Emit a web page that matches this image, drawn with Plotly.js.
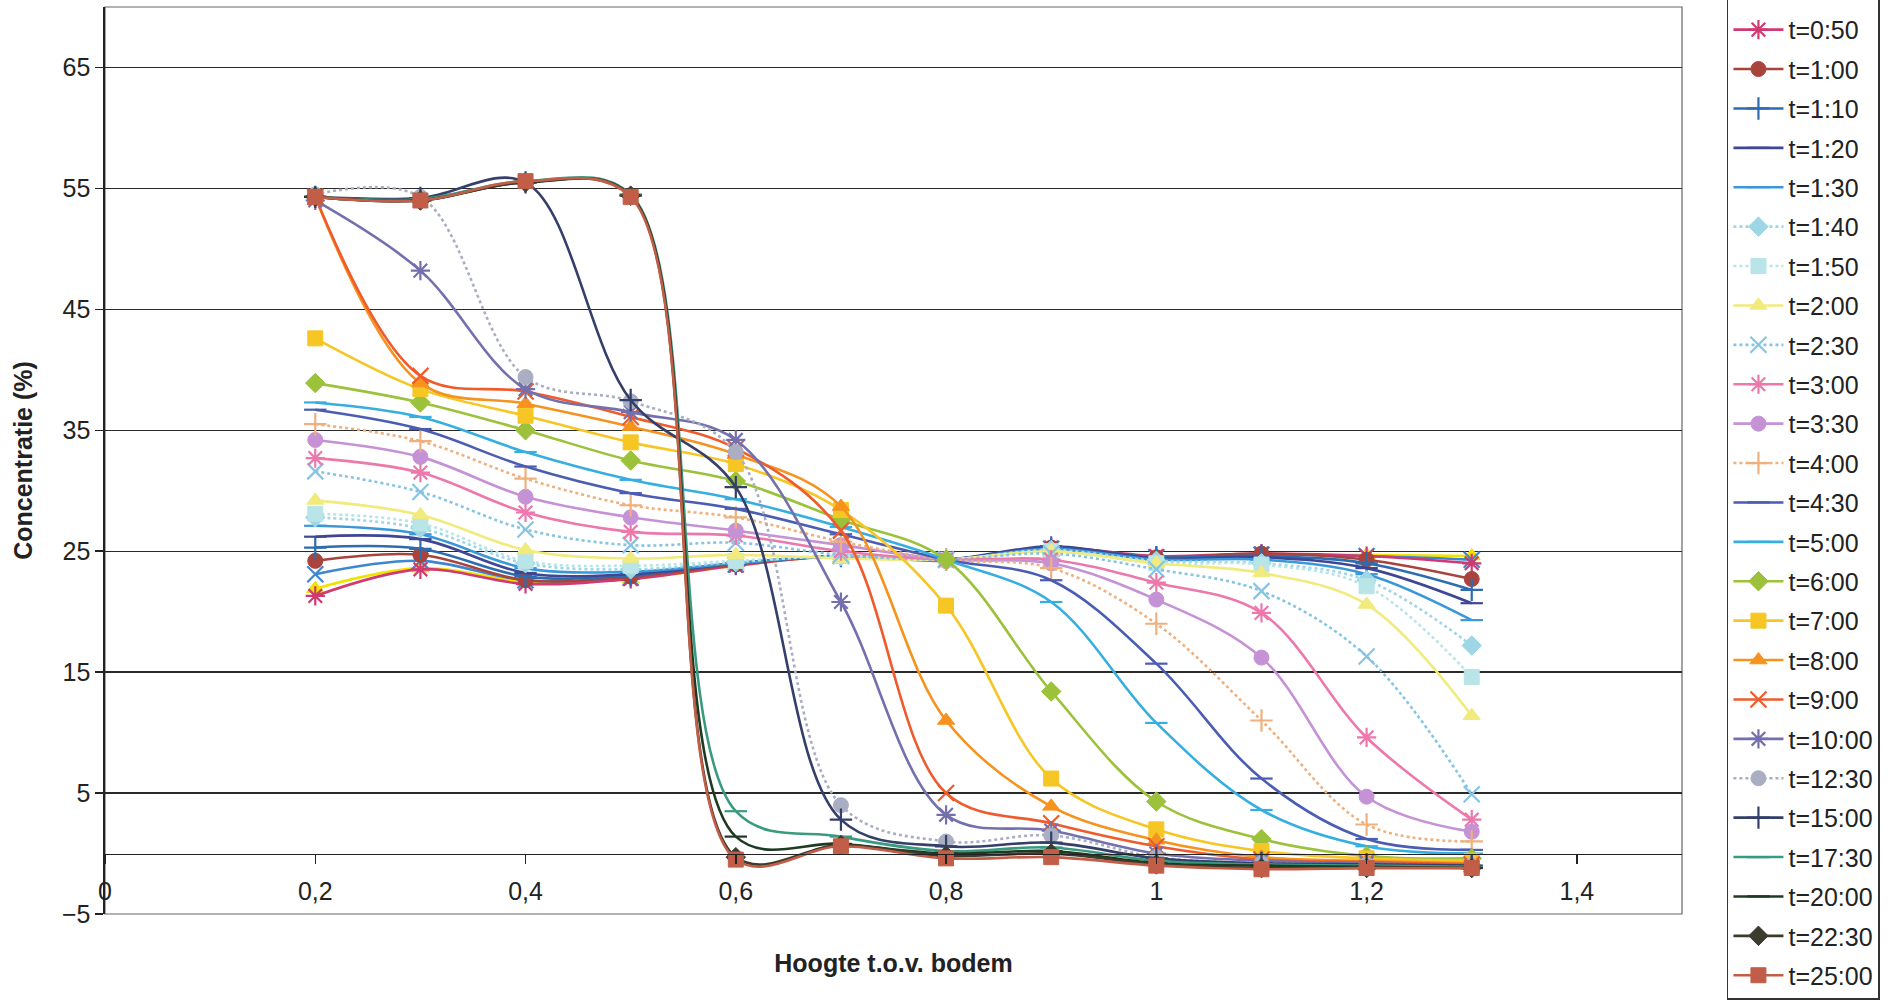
<!DOCTYPE html>
<html>
<head>
<meta charset="utf-8">
<script src="https://cdn.plot.ly/plotly-3.0.1.min.js"></script>
<style>
  html, body { margin: 0; padding: 0; background: #ffffff; }
  #chart { width: 1898px; height: 1003px; }
</style>
</head>
<body>
<div id="chart"></div>
<script>
// ---- data ----
const hoogte = [0.2, 0.3, 0.4, 0.5, 0.6, 0.7, 0.8, 0.9, 1.0, 1.1, 1.2, 1.3];
const xTickVals = [0, 0.2, 0.4, 0.6, 0.8, 1.0, 1.2, 1.4];
const xTickText = ['0', '0,2', '0,4', '0,6', '0,8', '1', '1,2', '1,4'];
const yTickVals = [-5, 5, 15, 25, 35, 45, 55, 65];

const seriesNames = ['t=0:30', 't=0:40', 't=0:50', 't=1:00', 't=1:10', 't=1:20', 't=1:30', 't=1:40',
  't=1:50', 't=2:00', 't=2:30', 't=3:00', 't=3:30', 't=4:00', 't=4:30', 't=5:00', 't=6:00',
  't=7:00', 't=8:00', 't=9:00', 't=10:00', 't=12:30', 't=15:00', 't=17:30', 't=20:00',
  't=22:30', 't=25:00'];

const t0030 = [21.9, 23.6, 22.5, 22.7, 23.8, 24.6, 24.3, 25.2, 24.5, 24.7, 24.7, 24.6];
const t0040 = [23.1, 24.2, 22.6, 22.8, 23.9, 24.6, 24.3, 25.2, 24.5, 24.7, 24.6, 24.3];
const t0050 = [21.3, 23.5, 22.3, 22.7, 23.8, 24.6, 24.3, 25.3, 24.6, 24.8, 24.6, 24.0];
const t0100 = [24.2, 24.7, 22.6, 22.9, 23.9, 24.6, 24.2, 25.3, 24.5, 24.8, 24.3, 22.7];
const t0110 = [25.3, 25.2, 22.9, 23.0, 24.0, 24.6, 24.3, 25.3, 24.5, 24.6, 24.0, 21.8];
const t0120 = [26.2, 26.0, 23.2, 23.1, 24.0, 24.6, 24.3, 25.4, 24.4, 24.5, 23.6, 20.7];
const t0130 = [27.1, 26.4, 23.6, 23.3, 24.0, 24.6, 24.3, 25.2, 24.3, 24.3, 23.1, 19.3];
const t0140 = [27.8, 26.9, 24.0, 23.5, 24.1, 24.6, 24.3, 25.1, 24.2, 24.0, 22.6, 17.2];
const t0150 = [28.1, 27.3, 24.2, 23.8, 24.2, 24.6, 24.3, 25.0, 24.0, 23.9, 22.1, 14.6];
const t0200 = [29.2, 28.0, 25.1, 24.4, 24.7, 24.4, 24.3, 25.0, 24.0, 23.2, 20.6, 11.4];
const t0230 = [31.6, 29.9, 26.8, 25.5, 25.7, 24.7, 24.3, 24.8, 23.5, 21.7, 16.3, 4.9];
const t0300 = [32.7, 31.5, 28.2, 26.6, 26.3, 25.0, 24.3, 24.3, 22.4, 19.9, 9.6, 2.8];
const t0330 = [34.2, 32.8, 29.5, 27.8, 26.7, 25.5, 24.3, 24.0, 21.0, 16.2, 4.7, 1.8];
const t0400 = [35.5, 34.1, 31.0, 28.8, 27.8, 25.8, 24.3, 23.6, 19.0, 11.0, 2.4, 1.0];
const t0430 = [36.7, 35.1, 32.0, 29.8, 28.5, 26.4, 24.3, 22.6, 15.7, 6.2, 1.2, 0.3];
const t0500 = [37.3, 36.1, 33.2, 30.9, 29.3, 27.0, 24.3, 20.8, 10.8, 3.6, 0.6, 0.0];
const t0600 = [38.9, 37.3, 35.0, 32.5, 30.8, 27.6, 24.3, 13.4, 4.3, 1.2, -0.2, -0.4];
const t0700 = [42.6, 38.4, 36.2, 34.0, 32.2, 28.4, 20.5, 6.2, 2.0, 0.2, -0.4, -0.6];
const t0800 = [54.3, 38.9, 37.2, 35.3, 33.0, 28.7, 11.0, 3.9, 1.1, -0.3, -0.6, -0.8];
const t0900 = [54.3, 39.5, 38.2, 36.1, 33.5, 26.7, 5.0, 2.5, 0.6, -0.5, -0.7, -0.9];
const t1000 = [54.0, 48.2, 38.4, 36.5, 34.2, 20.8, 3.2, 1.9, 0.0, -0.6, -0.8, -1.0];
const t1230 = [54.5, 54.3, 39.4, 37.4, 33.2, 4.0, 1.0, 1.5, -0.3, -0.8, -0.9, -1.0];
const t1500 = [54.3, 54.2, 55.5, 37.5, 30.3, 2.8, 0.6, 0.9, -0.4, -0.8, -0.9, -1.0];
const t1730 = [54.3, 54.1, 55.6, 54.5, 3.5, 1.4, 0.2, 0.5, -0.6, -0.9, -1.0, -1.1];
const t2000 = [54.3, 54.0, 55.5, 54.4, 1.4, 0.8, 0.0, 0.2, -0.8, -1.0, -1.1, -1.2];
const t2230 = [54.3, 54.0, 55.5, 54.4, -0.3, 0.7, -0.2, 0.0, -0.9, -1.2, -1.2, -1.2];
const t2500 = [54.3, 54.0, 55.6, 54.3, -0.5, 0.6, -0.4, -0.3, -1.0, -1.3, -1.2, -1.2];

const seriesValues = [t0030, t0040, t0050, t0100, t0110, t0120, t0130, t0140, t0150, t0200,
  t0230, t0300, t0330, t0400, t0430, t0500, t0600, t0700, t0800, t0900, t1000, t1230,
  t1500, t1730, t2000, t2230, t2500];

// ---- styles ----
const colors = ['#f2e200', '#3f86d0', '#cf3a72', '#a9443d', '#2c6cb0', '#3f4795', '#3b98d8', '#9fd6e6',
  '#b9e4e8', '#f1ea7c', '#86c4e4', '#ec78ac', '#c592d6', '#efb07e', '#4b5db2', '#36aee0', '#9bc23a',
  '#f6c624', '#f6921e', '#ef5b2c', '#7470ae', '#a9aec2', '#343f6a', '#3a9a80', '#1e3a22',
  '#3c3c2c', '#c25e48'];
const symbols = ['triangle-up', 'x-thin-open', 'asterisk-open', 'circle', 'cross-thin-open',
  'line-ew-open', 'line-ew-open', 'diamond', 'square', 'triangle-up', 'x-thin-open',
  'asterisk-open', 'circle', 'cross-thin-open', 'line-ew-open', 'line-ew-open', 'diamond',
  'square', 'triangle-up', 'x-thin-open', 'asterisk-open', 'circle', 'cross-thin-open',
  'line-ew-open', 'line-ew-open', 'diamond', 'square'];
const dashes = ['solid', 'solid', 'solid', 'solid', 'solid', 'solid', 'solid', 'dot', 'dot', 'solid',
  'dot', 'solid', 'solid', 'dot', 'solid', 'solid', 'solid', 'solid', 'solid', 'solid', 'solid',
  'dot', 'solid', 'solid', 'solid', 'solid', 'solid'];
// first series sits above the top edge of the (clipped) legend box
const inLegend = seriesNames.map(function (n, i) { return i > 0; });

const FONT = 'Liberation Sans, Arial, Helvetica, sans-serif';

const traces = seriesNames.map(function (name, i) {
  const sym = symbols[i];
  const openSym = sym.indexOf('open') >= 0;
  return {
    type: 'scatter',
    mode: 'lines+markers',
    name: name,
    legendgroup: name,
    showlegend: inLegend[i],
    x: hoogte,
    y: seriesValues[i],
    line: { color: colors[i], width: 2.6, shape: 'spline', smoothing: 1, dash: dashes[i] },
    marker: {
      symbol: sym,
      size: openSym ? 16 : 15,
      color: colors[i],
      line: { color: colors[i], width: openSym ? 2.2 : 1 }
    },
    hoverinfo: 'x+y+name'
  };
});

const layout = {
  width: 1898,
  height: 1003,
  margin: { l: 105, r: 216, t: 7, b: 89, autoexpand: false },
  paper_bgcolor: '#ffffff',
  plot_bgcolor: '#ffffff',
  font: { family: FONT, size: 24, color: '#222222' },
  showlegend: true,
  xaxis: {
    range: [0, 1.5],
    anchor: 'free',
    position: 5 / 75,
    tickmode: 'array',
    tickvals: xTickVals,
    ticktext: xTickText,
    ticks: 'outside',
    ticklen: 9,
    tickwidth: 1.5,
    tickcolor: '#222222',
    ticklabelstandoff: 6,
    showline: true,
    linecolor: '#222222',
    linewidth: 1.6,
    showgrid: false,
    zeroline: false,
    tickfont: { family: FONT, size: 25, color: '#222222' },
    title: { text: '<b>Hoogte t.o.v. bodem</b>', font: { family: FONT, size: 25, color: '#222222' }, standoff: 50 }
  },
  yaxis: {
    range: [-5, 70],
    tickmode: 'array',
    tickvals: yTickVals,
    ticks: 'outside',
    ticklen: 8,
    tickwidth: 1.5,
    tickcolor: '#222222',
    showline: true,
    linecolor: '#222222',
    linewidth: 1.6,
    showgrid: true,
    gridcolor: '#2a2a2a',
    gridwidth: 1.4,
    zeroline: false,
    tickfont: { family: FONT, size: 25, color: '#222222' },
    title: { text: '<b>Concentratie (%)</b>', font: { family: FONT, size: 25, color: '#222222' }, standoff: 22 }
  },
  legend: {
    x: 1.0285,
    xanchor: 'left',
    y: -0.0948,
    yanchor: 'bottom',
    bgcolor: '#ffffff',
    bordercolor: '#333333',
    borderwidth: 1.5,
    font: { family: FONT, size: 25, color: '#222222' },
    tracegroupgap: 3.9,
    itemwidth: 50,
    maxheight: 3000
  },
  shapes: [{
    type: 'rect', xref: 'paper', yref: 'paper', x0: 0, x1: 1, y0: 0, y1: 1,
    line: { color: '#666666', width: 1.2 }, layer: 'below'
  }]
};

Plotly.newPlot('chart', traces, layout, { displayModeBar: false, staticPlot: true });
</script>
</body>
</html>
